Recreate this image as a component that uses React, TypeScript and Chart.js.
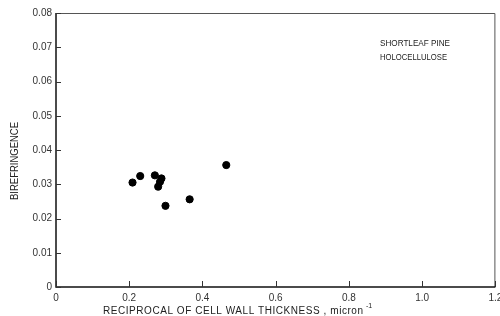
import React, { useEffect, useRef } from "react";
import { Chart, registerables } from "chart.js";

Chart.register(...registerables);

const reciprocalThickness = [0.209, 0.23, 0.27, 0.288, 0.284, 0.279, 0.299, 0.365, 0.465];
const birefringence = [0.0305, 0.0324, 0.0326, 0.0317, 0.0307, 0.0293, 0.0237, 0.0256, 0.0356];
const xTicks = [0, 0.2, 0.4, 0.6, 0.8, 1.0, 1.2];
const yTicks = [0, 0.01, 0.02, 0.03, 0.04, 0.05, 0.06, 0.07, 0.08];
const xTitle = "RECIPROCAL OF CELL WALL THICKNESS , micron";
const yTitle = "BIREFRINGENCE";
const noteLines = ["SHORTLEAF PINE", "HOLOCELLULOSE"];

const FONT = "'Liberation Sans', Arial, sans-serif";

function fitText(ctx: CanvasRenderingContext2D, text: string, x: number, y: number, target: number) {
  (ctx as any).letterSpacing = "0px";
  const w = ctx.measureText(text).width;
  if (w > target) {
    ctx.save();
    ctx.translate(x, y);
    ctx.scale(target / w, 1);
    ctx.fillText(text, 0, 0);
    ctx.restore();
    return;
  }
  const ls = (target - w) / Math.max(1, text.length - 1);
  (ctx as any).letterSpacing = ls + "px";
  ctx.fillText(text, x, y);
  (ctx as any).letterSpacing = "0px";
}

const decorPlugin = {
  id: "decor",
  afterDraw(chart: any) {
    const ctx = chart.ctx as CanvasRenderingContext2D;
    const { left, right, top, bottom } = chart.chartArea;
    const xs = chart.scales.x;
    const ys = chart.scales.y;
    ctx.save();
    // frame
    ctx.strokeStyle = "#555";
    ctx.lineWidth = 1;
    ctx.beginPath();
    ctx.moveTo(left, top + 0.5);
    ctx.lineTo(right - 0.5, top + 0.5);
    ctx.lineTo(right - 0.5, bottom);
    ctx.stroke();
    ctx.strokeStyle = "#111";
    ctx.lineWidth = 1.5;
    ctx.beginPath();
    ctx.moveTo(left, top);
    ctx.lineTo(left, bottom);
    ctx.lineTo(right, bottom);
    ctx.stroke();
    // inward ticks
    ctx.lineWidth = 1;
    ctx.strokeStyle = "#333";
    ctx.beginPath();
    yTicks.forEach((v) => {
      const py = Math.round(ys.getPixelForValue(v)) + 0.5;
      ctx.moveTo(left, py);
      ctx.lineTo(left + 5, py);
    });
    xTicks.forEach((v) => {
      const px = Math.round(xs.getPixelForValue(v)) + 0.5;
      ctx.moveTo(px, bottom);
      ctx.lineTo(px, bottom - 6);
    });
    ctx.stroke();
    // titles
    ctx.fillStyle = "#222";
    ctx.font = "10px " + FONT;
    ctx.textBaseline = "middle";
    ctx.textAlign = "left";
    fitText(ctx, xTitle, 103, 311, 260);
    ctx.font = "7px " + FONT;
    ctx.fillText("-1", 366, 306);
    ctx.font = "10px " + FONT;
    ctx.save();
    ctx.translate(15, 161);
    ctx.rotate(-Math.PI / 2);
    fitText(ctx, yTitle, -39, 0, 78);
    ctx.restore();
    // note
    ctx.font = "8.5px " + FONT;
    fitText(ctx, noteLines[0], 380, 44, 70);
    fitText(ctx, noteLines[1], 380, 58, 67);
    ctx.restore();
  },
};

export default function App() {
  const canvasRef = useRef<HTMLCanvasElement>(null);
  useEffect(() => {
    document.body.style.margin = "0";
    const canvas = canvasRef.current!;
    const chart = new Chart(canvas, {
      type: "scatter",
      data: {
        datasets: [
          {
            data: reciprocalThickness.map((x, i) => ({ x, y: birefringence[i] })),
            backgroundColor: "#000",
            borderColor: "#000",
            pointRadius: 3.6,
            pointHoverRadius: 3.6,
          },
        ],
      },
      options: {
        animation: false,
        responsive: false,
        maintainAspectRatio: false,
        layout: { padding: { top: 13, right: 3, left: 0, bottom: 0 } },
        plugins: { legend: { display: false }, tooltip: { enabled: false } },
        scales: {
          x: {
            type: "linear",
            min: 0,
            max: 1.2,
            afterFit: (s: any) => {
              s.height = 29;
              s.paddingLeft = 0;
              s.paddingRight = 0;
            },
            afterBuildTicks: (s: any) => {
              s.ticks = xTicks.map((v) => ({ value: v }));
            },
            ticks: {
              color: "#333",
              font: { size: 10, family: FONT },
              padding: 5,
              maxRotation: 0,
              autoSkip: false,
              callback: (v: any) => (v === 0 ? "0" : Number(v).toFixed(1)),
            },
            grid: { display: false, drawTicks: false },
            border: { display: false },
          },
          y: {
            type: "linear",
            min: 0,
            max: 0.08,
            afterFit: (s: any) => {
              s.width = 56;
              s.paddingTop = 0;
              s.paddingBottom = 0;
            },
            afterBuildTicks: (s: any) => {
              s.ticks = yTicks.map((v) => ({ value: v }));
            },
            ticks: {
              color: "#333",
              font: { size: 10, family: FONT },
              padding: 4,
              autoSkip: false,
              callback: (v: any) => (v === 0 ? "0" : Number(v).toFixed(2)),
            },
            grid: { display: false, drawTicks: false },
            border: { display: false },
          },
        },
      },
      plugins: [decorPlugin],
    });
    return () => chart.destroy();
  }, []);
  return (
    <div style={{ width: 500, height: 316, position: "relative", background: "#fff" }}>
      <canvas ref={canvasRef} width={500} height={316} />
    </div>
  );
}
